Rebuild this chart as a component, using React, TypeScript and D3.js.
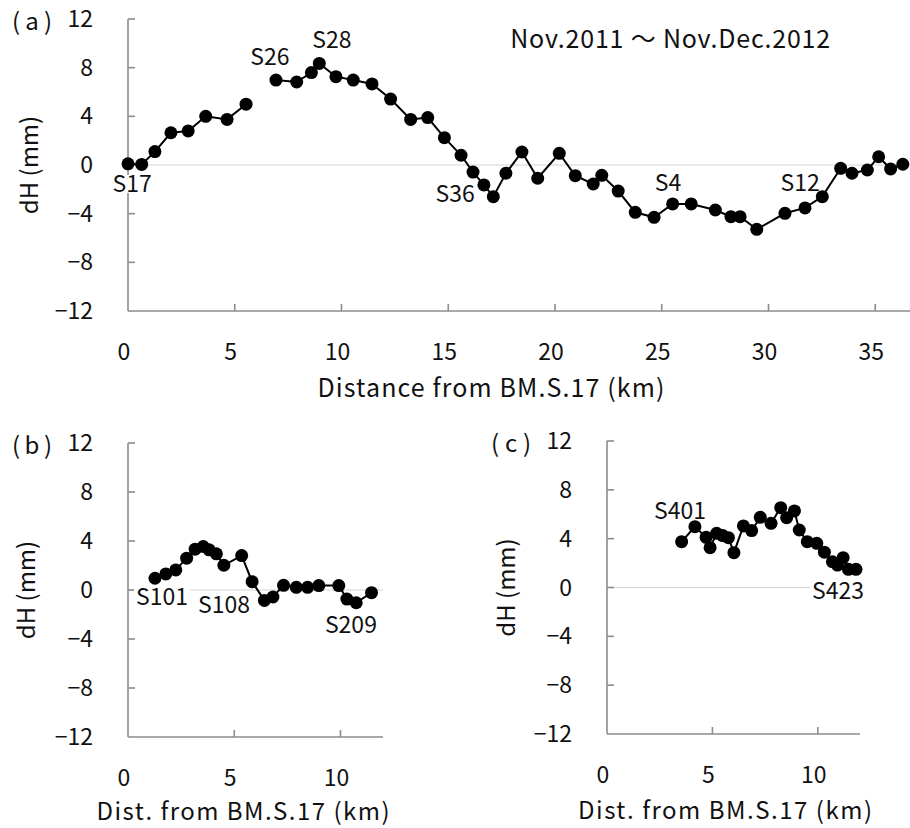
import * as d3 from "d3";
import React from "react";

// (a) main leveling route, Nov.2011 ~ Nov.Dec.2012 (null = gap in the route)
const distA = [0, 0.64, 1.26, 2.01, 2.82, 3.64, 4.64, 5.53, null, 6.93, 7.9, 8.59, 8.96, 9.74, 10.55, 11.43, 12.3, 13.24, 14.04, 14.82, 15.6, 16.16, 16.67, 17.11, 17.7, 18.45, 19.19, 20.2, 20.95, 21.79, 22.19, 22.96, 23.76, 24.64, 25.51, 26.38, 27.51, 28.24, 28.67, 29.45, 30.77, 31.71, 32.52, 33.38, 33.91, 34.63, 35.16, 35.72, 36.29];
const dhA = [0.1, 0.05, 1.1, 2.65, 2.8, 4.0, 3.75, 5.0, null, 6.98, 6.82, 7.6, 8.35, 7.26, 6.98, 6.66, 5.42, 3.75, 3.9, 2.25, 0.8, -0.58, -1.64, -2.6, -0.68, 1.07, -1.09, 0.96, -0.88, -1.56, -0.85, -2.14, -3.89, -4.3, -3.2, -3.2, -3.7, -4.25, -4.25, -5.29, -3.97, -3.53, -2.6, -0.27, -0.68, -0.41, 0.68, -0.33, 0.06];

// (b) S101 - S209 branch
const distB = [1.27, 1.78, 2.25, 2.76, 3.16, 3.54, 3.82, 4.16, 4.51, 5.35, 5.84, 6.42, 6.82, 7.32, 7.92, 8.45, 8.98, 9.92, 10.3, 10.74, 11.46];
const dhB = [0.96, 1.31, 1.64, 2.6, 3.33, 3.55, 3.28, 2.95, 2.02, 2.81, 0.68, -0.85, -0.57, 0.38, 0.22, 0.22, 0.36, 0.36, -0.74, -1.04, -0.22];

// (c) S401 - S423 branch
const distC = [3.54, 4.17, 4.7, 4.89, 5.2, 5.49, 5.76, 6.02, 6.47, 6.86, 7.27, 7.78, 8.24, 8.52, 8.89, 9.12, 9.5, 9.95, 10.31, 10.69, 10.93, 11.2, 11.45, 11.81];
const dhC = [3.75, 4.98, 4.11, 3.26, 4.44, 4.25, 4.08, 2.85, 5.04, 4.66, 5.75, 5.26, 6.54, 5.72, 6.27, 4.71, 3.75, 3.62, 2.89, 2.11, 1.84, 2.44, 1.49, 1.49];

const yTicks = [-12, -8, -4, 0, 4, 8, 12];
const xTicksA = [0, 5, 10, 15, 20, 25, 30, 35];
const xTicksBC = [0, 5, 10];

// station labels, in data units [dist, dH]
const labelsA: [string, number, number][] = [
  ["S17", 0.19, -2.22],
  ["S26", 6.65, 8.22],
  ["S28", 9.55, 9.61],
  ["S36", 15.32, -3.04],
  ["S4", 25.29, -2.14],
  ["S12", 31.48, -2.14],
];
const labelsB: [string, number, number][] = [
  ["S101", 1.6, -1.22],
  ["S108", 4.52, -1.88],
  ["S209", 10.49, -3.51],
];
const labelsC: [string, number, number][] = [
  ["S401", 3.46, 5.61],
  ["S423", 10.96, -0.94],
];

const FONT = "'Noto Sans CJK JP', 'Noto Sans', sans-serif";
const AXIS = "#8c8c8c";

type PanelProps = {
  tag: string;
  dist: (number | null)[];
  dh: (number | null)[];
  xMax: number;
  xRange: [number, number];
  yRange: [number, number];
  xTicks: number[];
  labels: [string, number, number][];
  xTitle: string;
  xTitleX: number;
  xTitleLen: number;
  titleDy: number;
  titleSize: number;
  yTitleX: number;
  note?: string;
};

function Panel(props: PanelProps) {
  const { tag, dist, dh, xMax, xRange, yRange, xTicks, labels, xTitle, xTitleX, xTitleLen, titleDy, titleSize, yTitleX, note } = props;
  const x = d3.scaleLinear().domain([0, xMax]).range(xRange);
  const y = d3.scaleLinear().domain([-12, 12]).range(yRange);
  const pts = dist.map((d, i) => ({ d, v: dh[i] }));
  const line = d3
    .line<{ d: number | null; v: number | null }>()
    .defined((p) => p.d != null && p.v != null)
    .x((p) => x(p.d as number))
    .y((p) => y(p.v as number));
  const x0 = x(0);
  const fs = 23;
  return (
    <g fontFamily={FONT}>
      {/* zero line */}
      <line x1={x0} x2={xRange[1]} y1={y(0)} y2={y(0)} stroke="#d4d4d4" strokeWidth={1.2} />
      {/* axes */}
      <line x1={x0} x2={x0} y1={y(12)} y2={y(-12)} stroke={AXIS} strokeWidth={1.6} />
      <line x1={x0} x2={xRange[1]} y1={y(-12)} y2={y(-12)} stroke={AXIS} strokeWidth={1.6} />
      {yTicks.map((t) => (
        <g key={t}>
          {t > -12 && <line x1={x0} x2={x0 + 7} y1={y(t)} y2={y(t)} stroke={AXIS} strokeWidth={1.6} />}
          <text x={x0 - 35} y={y(t) + 8} textAnchor="end" fontSize={fs} fill="#111">
            {t < 0 ? "\u2212" + Math.abs(t) : t}
          </text>
        </g>
      ))}
      {xTicks.map((t) => (
        <g key={t}>
          {t > 0 && <line x1={x(t)} x2={x(t)} y1={y(-12)} y2={y(-12) - 7} stroke={AXIS} strokeWidth={1.6} />}
          <text x={x(t) - 4} y={y(-12) + 49} textAnchor="middle" fontSize={fs} fill="#111">
            {t}
          </text>
        </g>
      ))}
      <text x={xTitleX} y={y(-12) + titleDy} textAnchor="middle" fontSize={titleSize} fill="#111"
        textLength={xTitleLen} lengthAdjust="spacing">
        {xTitle}
      </text>
      <text transform={`translate(${yTitleX},${y(0)}) rotate(-90)`} textAnchor="middle" dy={8} fontSize={24} fill="#111">
        dH (mm)
      </text>
      <text x={x0 - 116} y={y(12) + 11} fontSize={24} fill="#111" textLength={40} lengthAdjust="spacing">{tag}</text>
      {note && (
        <text x={x(17.9)} y={y(9.6)} fontSize={25} fill="#111" textLength={320} lengthAdjust="spacing">
          {note}
        </text>
      )}
      {labels.map(([s, lx, ly]) => {
        const w = s.length * 13 + 4;
        return (
          <g key={s}>
            <rect x={x(lx) - w / 2} y={y(ly) - 17} width={w} height={18} fill="#fff" />
            <text x={x(lx)} y={y(ly)} textAnchor="middle" fontSize={23} fill="#111">
              {s}
            </text>
          </g>
        );
      })}
      <path d={line(pts) ?? ""} fill="none" stroke="#000" strokeWidth={2} />
      {pts
        .filter((p) => p.d != null && p.v != null)
        .map((p, i) => (
          <circle key={i} cx={x(p.d as number)} cy={y(p.v as number)} r={6.5} fill="#000" />
        ))}
    </g>
  );
}

export default function App() {
  return (
    <svg width={910} height={828} style={{ position: "absolute", left: 0, top: 0, background: "#fff" }}>
      <rect width={910} height={828} fill="#fff" />
      <Panel
        tag="(a)"
        dist={distA}
        dh={dhA}
        xMax={36.9}
        xRange={[128, 128 + 36.9 * 21.35]}
        yRange={[311, 19]}
        xTicks={xTicksA}
        labels={labelsA}
        xTitle="Distance from BM.S.17 (km)"
        xTitleX={491}
        xTitleLen={347}
        titleDy={86}
        titleSize={25}
        yTitleX={30}
        note="Nov.2011 ～ Nov.Dec.2012"
      />
      <Panel
        tag="(b)"
        dist={distB}
        dh={dhB}
        xMax={12}
        xRange={[128, 383]}
        yRange={[737, 443]}
        xTicks={xTicksBC}
        labels={labelsB}
        xTitle="Dist. from BM.S.17 (km)"
        xTitleX={243}
        xTitleLen={293}
        titleDy={83}
        titleSize={24}
        yTitleX={27}
      />
      <Panel
        tag="(c)"
        dist={distC}
        dh={dhC}
        xMax={12}
        xRange={[607, 860]}
        yRange={[734, 441]}
        xTicks={xTicksBC}
        labels={labelsC}
        xTitle="Dist. from BM.S.17 (km)"
        xTitleX={725}
        xTitleLen={294}
        titleDy={85}
        titleSize={24}
        yTitleX={507}
      />
    </svg>
  );
}
